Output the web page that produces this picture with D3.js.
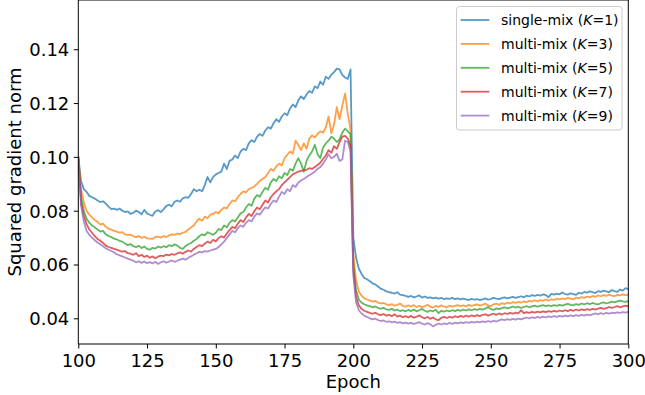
<!DOCTYPE html>
<html><head><meta charset="utf-8">
<script src="https://cdn.jsdelivr.net/npm/d3@7"></script>
<style>html,body{margin:0;padding:0;background:#fff;}svg{display:block;}</style>
</head><body>
<svg id="chart" width="645" height="395"></svg>
<script>
const epochs = d3.range(100, 301);
const seriesNames = ["single-mix", "multi-mix", "multi-mix", "multi-mix", "multi-mix"];
const seriesK = ["1", "3", "5", "7", "9"];
const xTicks = [100, 125, 150, 175, 200, 225, 250, 275, 300];
const yTicks = [0.04, 0.06, 0.08, 0.10, 0.12, 0.14];
const colors = ["#1f77b4", "#ff7f0e", "#2ca02c", "#d62728", "#9467bd"];

const k1 = [
0.1000,0.0910,0.0880,0.0870,0.0855,0.0850,0.0845,0.0838,0.0832,0.0835,
0.0826,0.0815,0.0806,0.0808,0.0803,0.0808,0.0800,0.0795,0.0797,0.0788,
0.0792,0.0800,0.0795,0.0787,0.0803,0.0790,0.0785,0.0781,0.0797,0.0802,
0.0795,0.0805,0.0818,0.0822,0.0816,0.0833,0.0838,0.0833,0.0846,0.0850,
0.0848,0.0862,0.0880,0.0872,0.0878,0.0872,0.0895,0.0925,0.0905,0.0925,
0.0935,0.0940,0.0945,0.0975,0.0955,0.0985,0.0990,0.1005,0.0995,0.1020,
0.1030,0.1025,0.1050,0.1062,0.1055,0.1075,0.1085,0.1078,0.1098,0.1110,
0.1105,0.1125,0.1140,0.1130,0.1150,0.1162,0.1155,0.1180,0.1195,0.1185,
0.1210,0.1225,0.1215,0.1232,0.1245,0.1238,0.1262,0.1255,0.1280,0.1268,
0.1298,0.1290,0.1305,0.1315,0.1328,0.1325,0.1305,0.1295,0.1290,0.1325,
0.0700,0.0625,0.0585,0.0565,0.0550,0.0545,0.0538,0.0530,0.0526,0.0518,
0.0510,0.0506,0.0500,0.0497,0.0495,0.0492,0.0497,0.0488,0.0486,0.0483,
0.0480,0.0483,0.0478,0.0481,0.0485,0.0477,0.0481,0.0476,0.0478,0.0474,
0.0477,0.0473,0.0476,0.0471,0.0474,0.0472,0.0476,0.0471,0.0474,0.0470,
0.0473,0.0470,0.0468,0.0472,0.0469,0.0471,0.0468,0.0470,0.0474,0.0469,
0.0472,0.0476,0.0473,0.0471,0.0475,0.0478,0.0474,0.0477,0.0480,0.0476,
0.0479,0.0482,0.0478,0.0484,0.0481,0.0486,0.0483,0.0487,0.0484,0.0489,
0.0486,0.0478,0.0491,0.0488,0.0492,0.0489,0.0496,0.0490,0.0488,0.0493,
0.0490,0.0487,0.0495,0.0492,0.0498,0.0495,0.0500,0.0497,0.0494,0.0501,
0.0498,0.0503,0.0500,0.0497,0.0505,0.0501,0.0498,0.0507,0.0503,0.0512,
0.0508];

const k3 = [
0.1000,0.0880,0.0830,0.0800,0.0785,0.0775,0.0765,0.0758,0.0748,0.0752,
0.0740,0.0733,0.0730,0.0725,0.0722,0.0718,0.0720,0.0712,0.0709,0.0711,
0.0705,0.0702,0.0706,0.0699,0.0703,0.0697,0.0696,0.0695,0.0702,0.0704,
0.0700,0.0706,0.0702,0.0708,0.0712,0.0710,0.0715,0.0713,0.0718,0.0721,
0.0730,0.0738,0.0745,0.0760,0.0770,0.0763,0.0778,0.0772,0.0785,0.0788,
0.0795,0.0790,0.0803,0.0812,0.0808,0.0825,0.0838,0.0835,0.0850,0.0862,
0.0872,0.0868,0.0880,0.0885,0.0890,0.0900,0.0910,0.0918,0.0925,0.0940,
0.0955,0.0948,0.0965,0.0975,0.0968,0.0995,0.1008,0.1020,0.1012,0.1060,
0.1045,0.1025,0.1050,0.1030,0.1068,0.1080,0.1072,0.1085,0.1095,0.1090,
0.1110,0.1150,0.1088,0.1120,0.1185,0.1140,0.1190,0.1235,0.1160,0.1100,
0.0640,0.0540,0.0500,0.0484,0.0475,0.0470,0.0466,0.0462,0.0465,0.0458,
0.0455,0.0457,0.0452,0.0449,0.0453,0.0447,0.0450,0.0455,0.0446,0.0443,
0.0448,0.0444,0.0449,0.0442,0.0446,0.0441,0.0445,0.0450,0.0443,0.0440,
0.0446,0.0442,0.0448,0.0444,0.0441,0.0447,0.0443,0.0446,0.0449,0.0445,
0.0448,0.0444,0.0450,0.0446,0.0449,0.0452,0.0447,0.0450,0.0455,0.0448,
0.0445,0.0452,0.0455,0.0450,0.0456,0.0453,0.0458,0.0455,0.0460,0.0457,
0.0461,0.0458,0.0463,0.0460,0.0465,0.0462,0.0467,0.0463,0.0468,0.0465,
0.0470,0.0466,0.0471,0.0468,0.0473,0.0470,0.0474,0.0471,0.0476,0.0473,
0.0470,0.0477,0.0474,0.0479,0.0476,0.0481,0.0478,0.0483,0.0480,0.0485,
0.0482,0.0486,0.0483,0.0488,0.0484,0.0482,0.0487,0.0485,0.0489,0.0486,
0.0488];

const k5 = [
0.1000,0.0850,0.0800,0.0770,0.0755,0.0745,0.0738,0.0730,0.0722,0.0725,
0.0712,0.0706,0.0702,0.0696,0.0693,0.0688,0.0685,0.0678,0.0672,0.0676,
0.0668,0.0664,0.0670,0.0661,0.0667,0.0658,0.0655,0.0662,0.0659,0.0667,
0.0663,0.0668,0.0664,0.0672,0.0668,0.0675,0.0670,0.0662,0.0658,0.0668,
0.0675,0.0680,0.0688,0.0695,0.0705,0.0712,0.0708,0.0720,0.0715,0.0710,
0.0718,0.0732,0.0728,0.0745,0.0738,0.0755,0.0765,0.0760,0.0775,0.0790,
0.0795,0.0812,0.0825,0.0818,0.0845,0.0858,0.0852,0.0870,0.0885,0.0878,
0.0905,0.0918,0.0910,0.0928,0.0920,0.0940,0.0932,0.0955,0.0948,0.0975,
0.0995,0.0975,0.0945,0.0985,0.1005,0.1020,0.1045,0.1010,0.0995,0.1035,
0.1050,0.1060,0.1075,0.1068,0.1055,0.1065,0.1090,0.1105,0.1095,0.1085,
0.0600,0.0505,0.0470,0.0458,0.0452,0.0448,0.0445,0.0441,0.0444,0.0438,
0.0436,0.0439,0.0433,0.0431,0.0435,0.0429,0.0432,0.0427,0.0430,0.0426,
0.0431,0.0427,0.0433,0.0426,0.0430,0.0435,0.0428,0.0424,0.0429,0.0426,
0.0432,0.0419,0.0428,0.0425,0.0429,0.0426,0.0430,0.0427,0.0431,0.0428,
0.0432,0.0429,0.0433,0.0430,0.0434,0.0431,0.0435,0.0432,0.0436,0.0442,
0.0434,0.0431,0.0437,0.0434,0.0438,0.0441,0.0437,0.0440,0.0444,0.0440,
0.0443,0.0439,0.0442,0.0445,0.0441,0.0444,0.0447,0.0443,0.0446,0.0449,
0.0445,0.0448,0.0445,0.0449,0.0446,0.0450,0.0447,0.0451,0.0454,0.0450,
0.0448,0.0453,0.0450,0.0455,0.0452,0.0456,0.0453,0.0457,0.0454,0.0452,
0.0456,0.0459,0.0455,0.0458,0.0462,0.0459,0.0463,0.0466,0.0463,0.0461,
0.0464];

const k7 = [
0.1000,0.0830,0.0780,0.0750,0.0730,0.0718,0.0705,0.0695,0.0688,0.0680,
0.0670,0.0665,0.0662,0.0658,0.0655,0.0651,0.0648,0.0650,0.0642,0.0640,
0.0636,0.0642,0.0631,0.0636,0.0628,0.0633,0.0625,0.0630,0.0623,0.0629,
0.0633,0.0631,0.0637,0.0634,0.0639,0.0636,0.0641,0.0645,0.0640,0.0647,
0.0652,0.0648,0.0658,0.0665,0.0672,0.0668,0.0678,0.0685,0.0680,0.0692,
0.0686,0.0698,0.0705,0.0700,0.0715,0.0728,0.0740,0.0735,0.0752,0.0765,
0.0758,0.0775,0.0788,0.0780,0.0798,0.0812,0.0805,0.0822,0.0838,0.0830,
0.0850,0.0862,0.0872,0.0880,0.0895,0.0905,0.0915,0.0925,0.0935,0.0940,
0.0945,0.0948,0.0950,0.0952,0.0958,0.0955,0.0962,0.0970,0.0978,0.0992,
0.1005,0.1025,0.1015,0.1040,0.1030,0.1055,0.1075,0.1078,0.1068,0.1040,
0.0580,0.0480,0.0448,0.0435,0.0428,0.0424,0.0420,0.0417,0.0421,0.0415,
0.0412,0.0416,0.0410,0.0413,0.0408,0.0415,0.0406,0.0410,0.0404,0.0408,
0.0403,0.0409,0.0402,0.0406,0.0411,0.0404,0.0400,0.0405,0.0398,0.0403,
0.0396,0.0393,0.0402,0.0405,0.0401,0.0406,0.0402,0.0408,0.0404,0.0409,
0.0405,0.0410,0.0406,0.0411,0.0407,0.0412,0.0408,0.0413,0.0415,0.0410,
0.0414,0.0417,0.0413,0.0418,0.0414,0.0419,0.0416,0.0420,0.0417,0.0421,
0.0418,0.0430,0.0419,0.0423,0.0420,0.0424,0.0421,0.0425,0.0422,0.0426,
0.0423,0.0427,0.0424,0.0428,0.0425,0.0429,0.0426,0.0430,0.0427,0.0431,
0.0428,0.0432,0.0429,0.0433,0.0430,0.0434,0.0431,0.0435,0.0432,0.0436,
0.0439,0.0435,0.0438,0.0442,0.0439,0.0442,0.0445,0.0441,0.0444,0.0447,
0.0444];

const k9 = [
0.1000,0.0820,0.0760,0.0725,0.0710,0.0700,0.0690,0.0682,0.0675,0.0668,
0.0660,0.0655,0.0650,0.0645,0.0638,0.0634,0.0630,0.0626,0.0622,0.0618,
0.0614,0.0608,0.0612,0.0606,0.0611,0.0605,0.0609,0.0604,0.0610,0.0602,
0.0608,0.0612,0.0607,0.0611,0.0615,0.0610,0.0614,0.0618,0.0622,0.0618,
0.0625,0.0630,0.0636,0.0642,0.0647,0.0645,0.0650,0.0648,0.0652,0.0655,
0.0658,0.0665,0.0675,0.0685,0.0698,0.0712,0.0725,0.0720,0.0735,0.0745,
0.0740,0.0755,0.0765,0.0760,0.0778,0.0790,0.0785,0.0800,0.0812,0.0808,
0.0825,0.0838,0.0832,0.0852,0.0870,0.0862,0.0880,0.0872,0.0895,0.0888,
0.0905,0.0912,0.0918,0.0925,0.0932,0.0938,0.0945,0.0955,0.0962,0.0975,
0.0990,0.1010,0.0995,0.1000,0.1012,0.0985,0.0990,0.1060,0.1055,0.1020,
0.0560,0.0460,0.0430,0.0418,0.0410,0.0405,0.0400,0.0396,0.0399,0.0393,
0.0390,0.0392,0.0387,0.0389,0.0385,0.0388,0.0383,0.0386,0.0381,0.0384,
0.0380,0.0383,0.0379,0.0382,0.0386,0.0380,0.0377,0.0382,0.0378,0.0370,
0.0376,0.0380,0.0377,0.0381,0.0378,0.0383,0.0379,0.0384,0.0381,0.0385,
0.0382,0.0386,0.0383,0.0387,0.0384,0.0388,0.0385,0.0389,0.0386,0.0390,
0.0387,0.0391,0.0388,0.0392,0.0396,0.0393,0.0397,0.0394,0.0398,0.0395,
0.0399,0.0396,0.0400,0.0403,0.0400,0.0404,0.0401,0.0405,0.0402,0.0406,
0.0403,0.0407,0.0404,0.0408,0.0405,0.0409,0.0406,0.0410,0.0407,0.0411,
0.0408,0.0412,0.0409,0.0413,0.0410,0.0414,0.0412,0.0415,0.0418,0.0415,
0.0419,0.0416,0.0420,0.0417,0.0421,0.0419,0.0422,0.0420,0.0423,0.0421,
0.0424];

const allSeries = [k1, k3, k5, k7, k9];

const svg = d3.select("#chart");
const L = 78.3, R = 628.3, T = 0, B = 344;
const x = d3.scaleLinear().domain([100, 300]).range([L, R]);
const y = d3.scaleLinear().domain([0.03045, 0.1583]).range([B, T]);
const font = "DejaVu Sans, sans-serif";

svg.append("defs").append("clipPath").attr("id", "clip")
  .append("rect").attr("x", L).attr("y", T).attr("width", R - L).attr("height", B - T);

const line = d3.line().x((d, i) => x(epochs[i])).y(d => y(d));
const g = svg.append("g").attr("clip-path", "url(#clip)");
allSeries.forEach((s, i) => {
  g.append("path").datum(s).attr("d", line)
    .attr("fill", "none").attr("stroke", colors[i])
    .attr("stroke-opacity", 0.75).attr("stroke-width", 1.8)
    .attr("stroke-linejoin", "round");
});

// axes
const xAxis = d3.axisBottom(x).tickValues(xTicks).tickSize(4.5).tickPadding(4).tickFormat(d3.format("d"));
const yAxis = d3.axisLeft(y).tickValues(yTicks).tickSize(4.5).tickPadding(4).tickFormat(d3.format(".2f"));
const gx = svg.append("g").attr("transform", `translate(0,${B})`).call(xAxis);
const gy = svg.append("g").attr("transform", `translate(${L},0)`).call(yAxis);
[gx, gy].forEach(a => {
  a.select(".domain").remove();
  a.selectAll("line").attr("stroke", "#000").attr("stroke-width", 1);
  a.selectAll("text").attr("font-family", font).attr("font-size", 18).attr("fill", "#000");
});
gx.selectAll("text").attr("dy", null).attr("y", 23);
gy.selectAll("text").attr("dy", "0.36em").attr("x", -9);

// spines
svg.append("line").attr("x1", L).attr("x2", L).attr("y1", T).attr("y2", B).attr("stroke", "#000").attr("stroke-width", 1);
svg.append("line").attr("x1", R).attr("x2", R).attr("y1", T).attr("y2", B).attr("stroke", "#000").attr("stroke-width", 1);
svg.append("line").attr("x1", L).attr("x2", R).attr("y1", B).attr("y2", B).attr("stroke", "#000").attr("stroke-width", 1);
svg.append("line").attr("x1", L).attr("x2", R).attr("y1", 0).attr("y2", 0).attr("stroke", "#000").attr("stroke-width", 1);

// axis labels
svg.append("text").attr("x", (L + R) / 2).attr("y", 387.5).attr("text-anchor", "middle")
  .attr("font-family", font).attr("font-size", 18).text("Epoch");
svg.append("text").attr("transform", `translate(21,${(T + B) / 2}) rotate(-90)`).attr("text-anchor", "middle")
  .attr("font-family", font).attr("font-size", 18).text("Squared gradient norm");

// legend
const lg = svg.append("g");
lg.append("rect").attr("x", 456.5).attr("y", 6.5).attr("width", 165.5).attr("height", 123.5)
  .attr("rx", 3).attr("fill", "#fff").attr("fill-opacity", 0.8).attr("stroke", "#cccccc").attr("stroke-width", 1);
allSeries.forEach((s, i) => {
  const yy = 20 + i * 23.9;
  lg.append("line").attr("x1", 460.7).attr("x2", 489.3).attr("y1", yy).attr("y2", yy)
    .attr("stroke", colors[i]).attr("stroke-opacity", 0.75).attr("stroke-width", 1.8);
  const t = lg.append("text").attr("x", 501).attr("y", yy + 5.3)
    .attr("font-family", font).attr("font-size", 14).attr("fill", "#000");
  t.append("tspan").text(seriesNames[i] + " (");
  t.append("tspan").attr("font-style", "italic").text("K");
  t.append("tspan").text("=" + seriesK[i] + ")");
});
</script>
</body></html>
